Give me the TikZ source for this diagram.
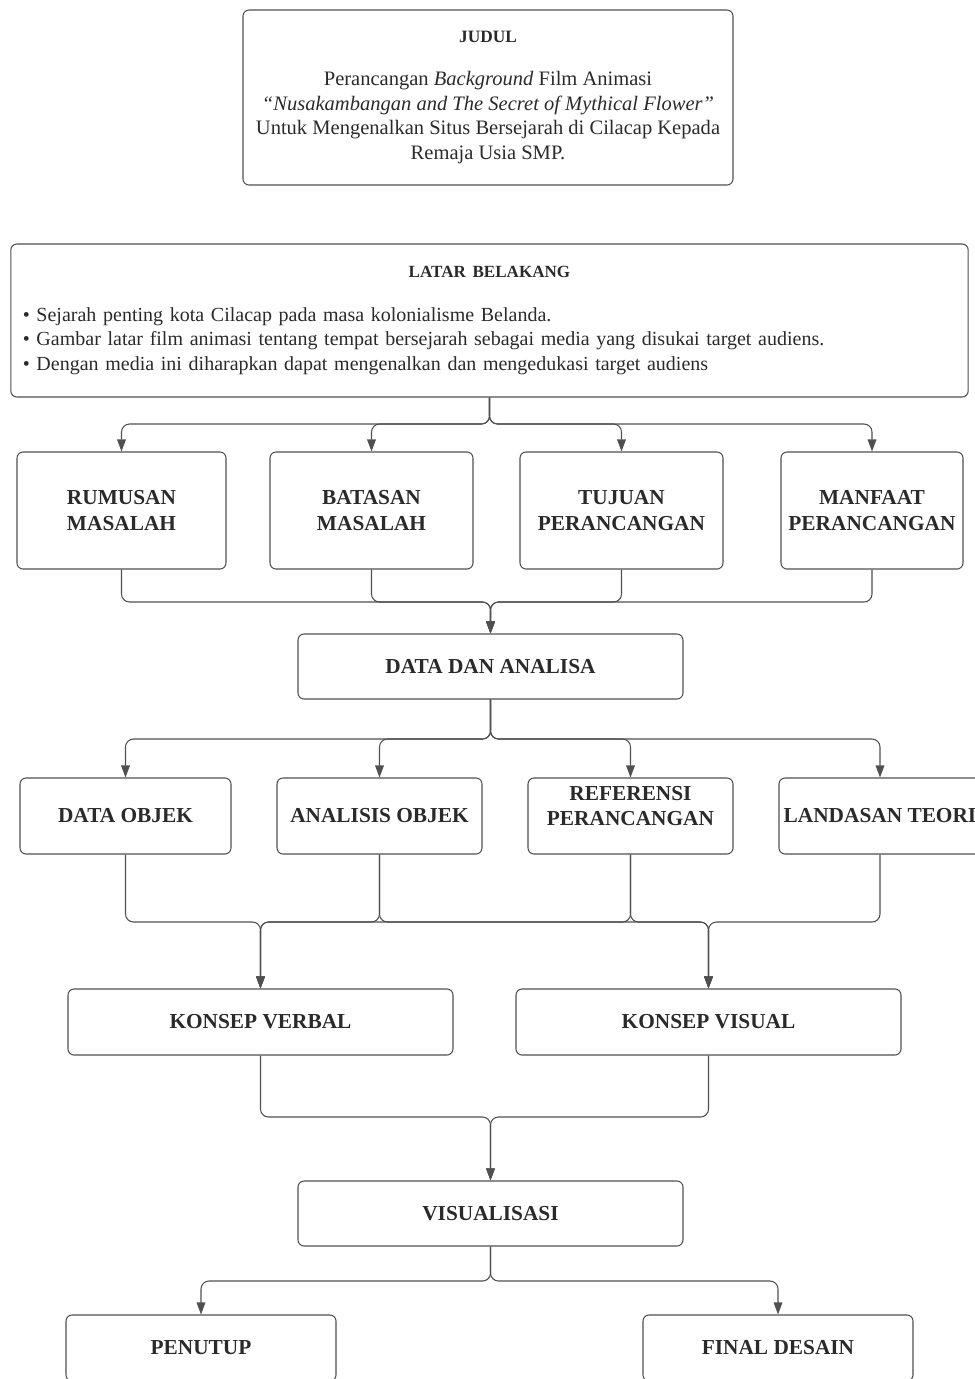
\documentclass[tikz,border=0pt]{standalone}
\usepackage{fontspec}
\setmainfont{Liberation Serif}
\usepackage{xcolor}
\usepackage{tikz}
\usetikzlibrary{arrows.meta}

\definecolor{garis}{HTML}{505050}
\definecolor{teks}{HTML}{2a2a2a}

\tikzset{
	kotak/.style={draw=garis, line width=0.8pt, rounded corners=4.5pt, align=center, text=teks, inner sep=2pt,
		font=\fontsize{15.4}{18.5}\selectfont},
	tebal/.style={kotak, font=\fontsize{16}{19}\selectfont\bfseries},
	panah/.style={draw=garis, line width=0.8pt, rounded corners=6pt, -{Triangle[length=9pt,width=6.5pt]}},
}

\begin{document}
\begin{tikzpicture}[x=0.75pt, y=-0.75pt]
		\useasboundingbox (0,0) rectangle (975,1379);
		\clip (0,0) rectangle (975,1379);
		
		% judul
		\node[kotak, minimum width=367.5pt, minimum height=131.25pt] (judul) at (488,97.5)
			{{\fontsize{13}{14}\selectfont\bfseries JUDUL}\\[14pt]
			Perancangan \textit{Background} Film Animasi\\
			\textit{“Nusakambangan and The Secret of Mythical Flower”}\\
			Untuk Mengenalkan Situs Bersejarah di Cilacap Kepada\\
			Remaja Usia SMP.};
		
		% latar belakang
		\node[kotak, align=left, text width=700pt, inner xsep=9pt, minimum height=114.75pt,
			font=\fontsize{15}{18.4}\selectfont] (latar) at (489.5,320.5)
			{{\centering\fontsize{12.8}{14}\selectfont\bfseries LATAR BELAKANG\par}\vspace{14pt}
			\textbullet\ Sejarah penting kota Cilacap pada masa kolonialisme Belanda.\\
			\textbullet\ Gambar latar film animasi tentang tempat bersejarah sebagai media yang disukai target audiens.\\
			\textbullet\ Dengan media ini diharapkan dapat mengenalkan dan mengedukasi target audiens};
		
		% baris pertama
		\node[tebal, minimum width=156.75pt, minimum height=87.75pt] (rumusan) at (121.5,510.5) {RUMUSAN\\MASALAH};
		\node[tebal, minimum width=152.25pt, minimum height=87.75pt] (batasan) at (371.5,510.5) {BATASAN\\MASALAH};
		\node[tebal, minimum width=152.25pt, minimum height=87.75pt] (tujuan) at (621.5,510.5) {TUJUAN\\PERANCANGAN};
		\node[tebal, minimum width=136.5pt, minimum height=87.75pt] (manfaat) at (872,510.5) {MANFAAT\\PERANCANGAN};
		
		\node[tebal, minimum width=288.75pt, minimum height=48.75pt] (data) at (490.5,666.5) {DATA DAN ANALISA};
		
		% baris kedua
		\node[tebal, minimum width=158.25pt, minimum height=57pt] (dataobjek) at (125.5,816) {DATA OBJEK};
		\node[tebal, minimum width=153.75pt, minimum height=57pt] (analisis) at (379.5,816) {ANALISIS OBJEK};
		\node[tebal, minimum width=153.75pt, minimum height=57pt] (referensi) at (630.5,816) {REFERENSI\\PERANCANGAN\\[-4pt]};
		\node[tebal, minimum width=151.5pt, minimum height=57pt] (landasan) at (880,816) {LANDASAN TEORI};
		
		% konsep
		\node[tebal, minimum width=288.75pt, minimum height=49.5pt] (verbal) at (260.5,1022) {KONSEP VERBAL};
		\node[tebal, minimum width=288.75pt, minimum height=49.5pt] (visual) at (708.5,1022) {KONSEP VISUAL};
		
		\node[tebal, minimum width=288.75pt, minimum height=48.75pt] (visualisasi) at (490.5,1213.5) {VISUALISASI};
		
		% akhir
		\node[tebal, minimum width=202.5pt, minimum height=49.5pt] (penutup) at (201,1348) {PENUTUP};
		\node[tebal, minimum width=202.5pt, minimum height=49.5pt] (final) at (778,1348) {FINAL DESAIN};
		
		% titik cabang
		\coordinate (c1) at (489.5,424);
		\coordinate (c2) at (490.5,602);
		\coordinate (c3) at (490.5,739);
		\coordinate (c4) at (260.5,922);
		\coordinate (c5) at (708.5,922);
		\coordinate (c6) at (490.5,1117);
		\coordinate (c7) at (490.5,1281);
		
		% panah
		\foreach \n in {rumusan, batasan, tujuan, manfaat} {
			\draw[panah] (latar.south) -- (c1) -| (\n.north);
			\draw[panah] (\n.south) |- (c2) -- (data.north);
		}
		\foreach \n in {dataobjek, analisis, referensi, landasan}
			\draw[panah] (data.south) -- (c3) -| (\n.north);
		\draw[panah] (dataobjek.south) |- (c4) -- (verbal.north);
		\draw[panah] (analisis.south) |- (c4) -- (verbal.north);
		\draw[panah] (analisis.south) |- (c5) -- (visual.north);
		\draw[panah] (referensi.south) |- (c4) -- (verbal.north);
		\draw[panah] (referensi.south) |- (c5) -- (visual.north);
		\draw[panah] (landasan.south) |- (c5) -- (visual.north);
		\draw[panah] (verbal.south) |- (c6) -- (visualisasi.north);
		\draw[panah] (visual.south) |- (c6) -- (visualisasi.north);
		\draw[panah] (visualisasi.south) -- (c7) -| (penutup.north);
		\draw[panah] (visualisasi.south) -- (c7) -| (final.north);
	\end{tikzpicture}
\end{document}
